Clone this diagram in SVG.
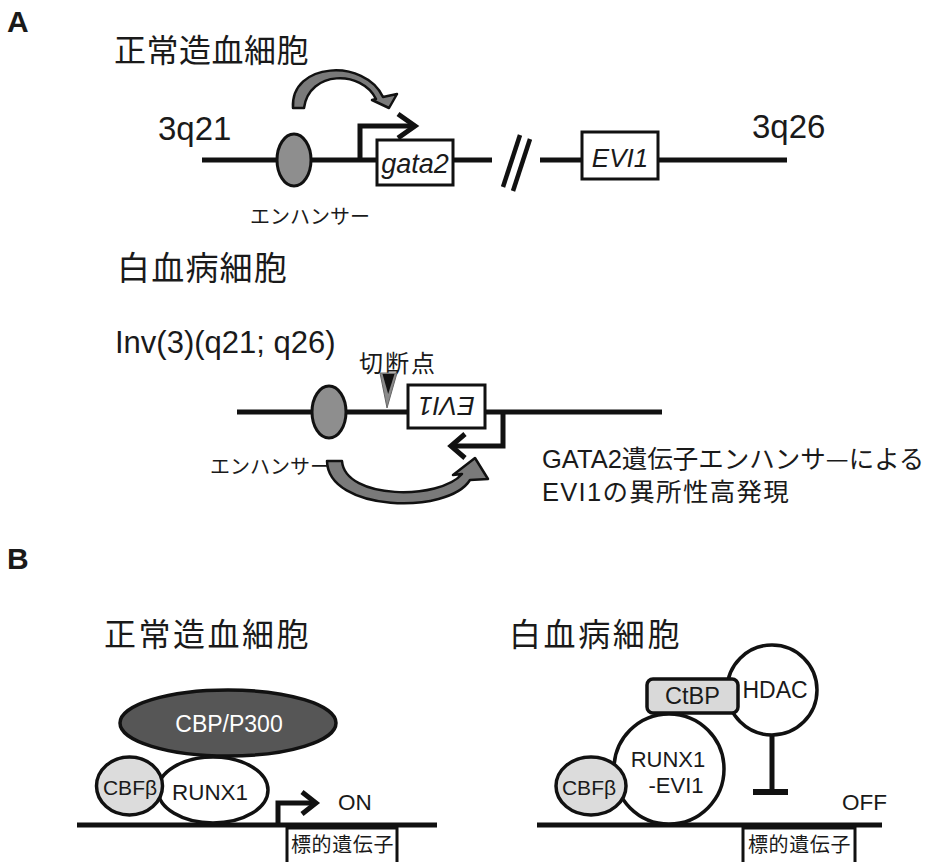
<svg xmlns="http://www.w3.org/2000/svg" width="942" height="862" viewBox="0 0 942 862">
<style>
.jp{font-family:"Noto Sans CJK JP","Liberation Sans",sans-serif;fill:#1a1a1a}
.la{font-family:"Liberation Sans",Arial,sans-serif;fill:#1a1a1a}
.it{font-style:italic}
.ln{stroke:#111;stroke-width:5;fill:none}
.pr{stroke:#111;stroke-width:5;fill:none;stroke-linejoin:miter}
.box{fill:#fff;stroke:#111;stroke-width:3}
.enh{fill:#8e8e8e;stroke:#111;stroke-width:3}
.band{fill:#7a7a7a;stroke:#111;stroke-width:2.5;stroke-linejoin:round}
.nd{stroke:#111;stroke-width:3.5}
</style>
<rect width="942" height="862" fill="#fff"/>

<g id="labelA"><text class="la" x="7" y="32" font-size="30" font-weight="bold">A</text></g>
<g id="labelB"><text class="la" x="7" y="569" font-size="30" font-weight="bold">B</text></g>

<g id="titleA1"><text class="jp" x="114" y="62" font-size="32" letter-spacing="0.5">正常造血細胞</text></g>
<g id="titleA2"><text class="jp" x="117" y="280" font-size="33" letter-spacing="1.2">白血病細胞</text></g>

<!-- normal chromosome -->
<g id="chrom-normal">
<line class="ln" x1="202" y1="160" x2="492" y2="160"/>
<line class="ln" x1="540" y1="160" x2="787" y2="160"/>
<line stroke="#111" stroke-width="4.5" x1="503" y1="187" x2="520" y2="135"/>
<line stroke="#111" stroke-width="4.5" x1="513" y1="191" x2="530" y2="139"/>
<text class="la" x="158" y="140" font-size="33">3q21</text>
<text class="la" x="752" y="138" font-size="33">3q26</text>
</g>
<g id="enhancer1">
<ellipse class="enh" cx="294" cy="160" rx="17" ry="26"/>
<text class="jp" x="250" y="224" font-size="20">エンハンサー</text>
</g>
<g id="connectors">
<path class="band" d="M293,108 C290,62 365,58 383,97 L397,94 L389,108 L372,100 L376,99 C362,70 309,70 304,108 Z"/>
<path class="pr" d="M360,160 V126 H412"/>
<polyline class="pr" points="398,114 415,126 398,138"/>
<path class="pr" d="M503,412 V446 H452"/>
<polyline class="pr" points="465,434 451,446 465,458"/>
<path class="band" d="M327,461 L342,461 C345,500 440,500 462,474 L453,475 L475,458 L488,479 L470,480 C448,515 328,512 327,461 Z"/>
<path class="pr" d="M278,825 V803 H312"/>
<polyline class="pr" points="302,792 316,803 302,814"/>
<path fill="none" stroke="#111" stroke-width="5" d="M772,735 V792"/>
<line stroke="#111" stroke-width="6" x1="753" y1="792" x2="788" y2="792"/>
</g>
<g id="gata2">
<rect class="box" x="377" y="140" width="76" height="45"/>
<text class="la it" x="415" y="173" font-size="27" text-anchor="middle">gata2</text>
</g>
<g id="evi1">
<rect class="box" x="582" y="132" width="76" height="47"/>
<text class="la it" x="620" y="167" font-size="26" text-anchor="middle">EVI1</text>
</g>

<!-- inversion -->
<g id="inv-label"><text class="la" x="115" y="353" font-size="31">Inv(3)(q21; q26)</text></g>
<g id="chrom-inv">
<line class="ln" x1="237" y1="412" x2="662" y2="412"/>
</g>
<g id="breakpoint">
<text class="jp" x="359" y="372" font-size="24" letter-spacing="2">切断点</text>
<polygon points="380,373 397,373 387,408" fill="#8a8a8a" stroke="#666" stroke-width="1"/>
<polygon points="382.5,374 394.5,374 388.2,394" fill="#111"/>
</g>
<g id="enhancer2">
<ellipse class="enh" cx="329" cy="412" rx="17" ry="26"/>
<text class="jp" x="210" y="474" font-size="20">エンハンサー</text>
</g>
<g id="evi1-inv">
<rect class="box" x="408" y="385" width="77" height="43"/>
<text class="la it" x="446.5" y="416" font-size="26" text-anchor="middle" transform="rotate(180 446.5 406.5)">EVI1</text>
</g>
<g id="note">
<text class="jp" x="542" y="468" font-size="25.5"><tspan class="la" style="font-family:'Liberation Sans',Arial,sans-serif">GATA2</tspan>遺伝子エンハンサ—による</text>
<text class="jp" x="542" y="501" font-size="25.5" letter-spacing="1.3"><tspan class="la" style="font-family:'Liberation Sans',Arial,sans-serif">EVI1</tspan>の異所性高発現</text>
</g>

<!-- B left -->
<g id="titleB1"><text class="jp" x="104" y="646" font-size="32" letter-spacing="2.5">正常造血細胞</text></g>
<g id="dna-left"><line class="ln" x1="77" y1="825" x2="437" y2="825"/></g>
<g id="cbp">
<ellipse class="nd" cx="228" cy="723" rx="108" ry="33" fill="#565656"/>
<text class="la" x="229" y="732" font-size="23" text-anchor="middle" style="fill:#fff">CBP/P300</text>
</g>
<g id="runx1">
<ellipse class="nd" cx="213" cy="790" rx="55" ry="33" fill="#fff"/>
<text class="la" x="210" y="800" font-size="22.4" text-anchor="middle">RUNX1</text>
</g>
<g id="cbfb-left">
<ellipse class="nd" cx="129.5" cy="786" rx="33" ry="29" fill="#dcdcdc"/>
<text class="la" x="130" y="795" font-size="21" text-anchor="middle">CBFβ</text>
</g>
<g id="on"><text class="la" x="338" y="810" font-size="22.5">ON</text></g>
<g id="target-left">
<rect class="box" x="287" y="828" width="110" height="36"/>
<text class="jp" x="291" y="852" font-size="20" letter-spacing="0.6">標的遺伝子</text>
</g>

<!-- B right -->
<g id="titleB2"><text class="jp" x="509" y="646" font-size="32" letter-spacing="2.6">白血病細胞</text></g>
<g id="dna-right"><line class="ln" x1="537" y1="825" x2="882" y2="825"/></g>
<g id="hdac">
<circle class="nd" cx="772" cy="690" r="45" fill="#fff"/>
<text class="la" x="775" y="698" font-size="23" text-anchor="middle">HDAC</text>
</g>
<g id="runx1-evi1">
<circle class="nd" cx="669" cy="769" r="55" fill="#fff"/>
<text class="la" x="668" y="767" font-size="22" text-anchor="middle">RUNX1</text>
<text class="la" x="676" y="793" font-size="22" text-anchor="middle">-EVI1</text>
</g>
<g id="ctbp">
<rect class="nd" x="647" y="679" width="91" height="34" rx="6" fill="#d9d9d9"/>
<text class="la" x="692.5" y="704" font-size="23.5" text-anchor="middle">CtBP</text>
</g>
<g id="cbfb-right">
<ellipse class="nd" cx="591" cy="786" rx="35" ry="29" fill="#dcdcdc"/>
<text class="la" x="589" y="795" font-size="21" text-anchor="middle">CBFβ</text>
</g>
<g id="off"><text class="la" x="842" y="810" font-size="22.5">OFF</text></g>
<g id="target-right">
<rect class="box" x="743" y="828" width="112" height="36"/>
<text class="jp" x="748" y="852" font-size="20" letter-spacing="0.6">標的遺伝子</text>
</g>
</svg>
